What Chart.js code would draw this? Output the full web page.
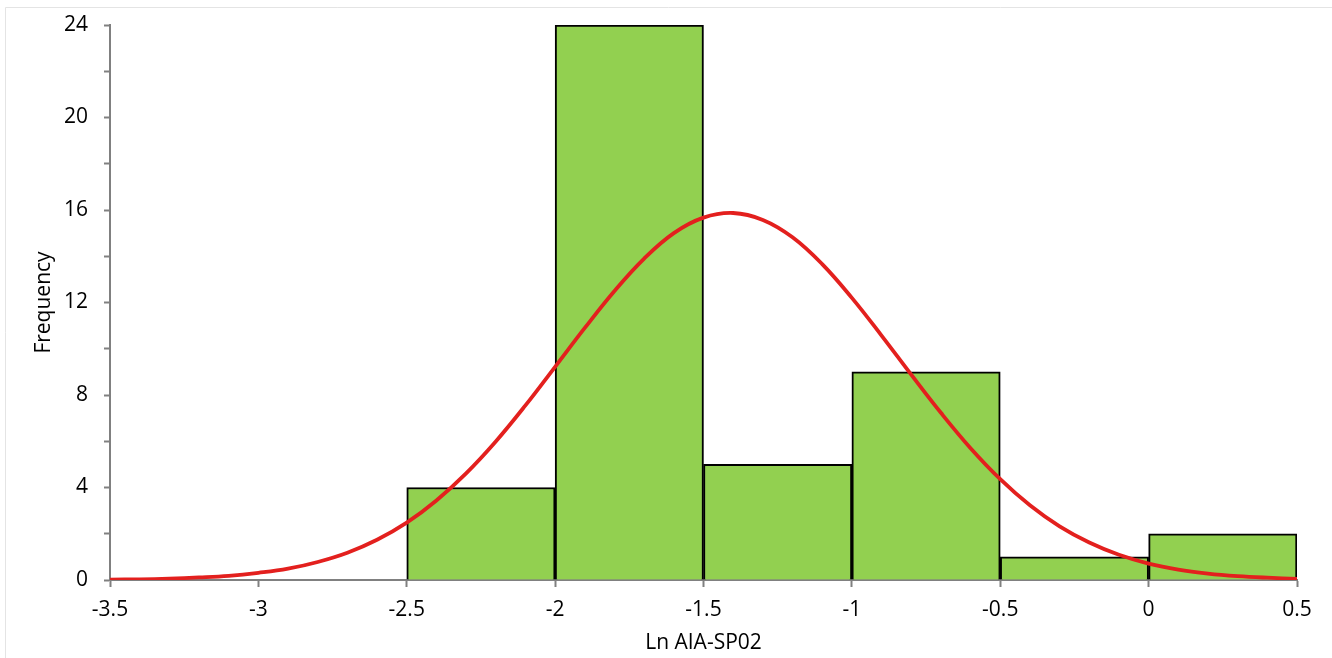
<!DOCTYPE html>
<html lang="en">
<head>
<meta charset="UTF-8">
<title>Histogram - Ln AIA-SP02</title>
<script src="https://cdn.jsdelivr.net/npm/chart.js"></script>
<style>
    html, body {
        margin: 0;
        padding: 0;
        background: #fff;
    }

    .chart-box {
        position: relative;
        width: 1332px;
        height: 658px;
    }
</style>
</head>
<body>

<div class="chart-box">
    <canvas id="grafHist" width="1332" height="658"></canvas>
</div>

<script>
    // histogram bins (centre of each 0.5 wide bin) and counts
    const binCenters = [-2.25, -1.75, -1.25, -0.75, -0.25, 0.25];
    const frequencies = [4, 24, 5, 9, 1, 2];

    // fitted curve, values
    const curveX = [-3.5, -3.4, -3.3, -3.2, -3.1, -3.0, -2.9, -2.8, -2.7, -2.6,
                    -2.5, -2.4, -2.3, -2.2, -2.1, -2.0, -1.9, -1.8, -1.7, -1.6,
                    -1.5, -1.4, -1.3, -1.2, -1.1, -1.0, -0.9, -0.8, -0.7, -0.6,
                    -0.5, -0.4, -0.3, -0.2, -0.1, 0.0, 0.1, 0.2, 0.3, 0.4, 0.5];
    const curveY = [0.02, 0.03, 0.06, 0.11, 0.18, 0.31, 0.49, 0.78, 1.18, 1.74,
                    2.48, 3.44, 4.61, 5.99, 7.55, 9.22, 10.9, 12.5, 13.9, 15.0,
                    15.67, 15.87, 15.57, 14.82, 13.66, 12.2, 10.57, 8.88, 7.23, 5.7,
                    4.36, 3.23, 2.32, 1.62, 1.09, 0.71, 0.45, 0.28, 0.17, 0.1, 0.05];

    const xTickStep = 0.5;
    const yTickStep = 2;
    const yLabelEvery = 4;

    const fuente = { family: '"Open Sans", sans-serif', size: 21 };
    const gris = '#808080';

    const marco = {
        id: 'marco',
        beforeDraw(chart) {
            const ctx = chart.ctx;
            ctx.save();
            ctx.fillStyle = '#fff';
            ctx.fillRect(0, 0, chart.width, chart.height);
            ctx.strokeStyle = '#e4e4e4';
            ctx.lineWidth = 1;
            ctx.beginPath();
            ctx.moveTo(5.5, chart.height);
            ctx.lineTo(5.5, 7.5);
            ctx.lineTo(chart.width, 7.5);
            ctx.stroke();
            ctx.restore();
        }
    };

    new Chart(grafHist, {
        type: 'bar',
        data: {
            datasets: [{
                type: 'line',
                data: curveX.map((x, i) => ({ x: x, y: curveY[i] })),
                borderColor: '#E3201E',
                borderWidth: 3.8,
                pointRadius: 0,
                tension: 0.4,
                fill: false,
                order: 0
            }, {
                type: 'bar',
                data: binCenters.map((x, i) => ({ x: x, y: frequencies[i] })),
                backgroundColor: '#92D050',
                borderColor: '#000',
                borderWidth: 2,
                barPercentage: 1,
                categoryPercentage: 1,
                grouped: false,
                order: 1
            }]
        },
        options: {
            responsive: false,
            animation: false,
            layout: { padding: { top: 25, right: 35, left: 0, bottom: 0 } },
            plugins: {
                legend: { display: false },
                tooltip: { enabled: false }
            },
            scales: {
                x: {
                    type: 'linear',
                    min: -3.5,
                    max: 0.5,
                    offset: false,
                    ticks: {
                        stepSize: xTickStep,
                        color: '#000',
                        font: fuente,
                        padding: 10,
                        autoSkip: false,
                        maxRotation: 0,
                        callback: v => String(Number(v.toFixed(1)))
                    },
                    grid: { offset: false, drawOnChartArea: false, drawTicks: true, tickLength: 7, tickColor: gris, tickWidth: 2, color: gris },
                    border: { color: gris, width: 2 },
                    title: { display: true, text: 'Ln AIA-SP02', color: '#000', font: fuente, padding: { top: 0, bottom: 2 } },
                    afterFit: s => { s.height = 78; s.paddingLeft = 0; s.paddingRight = 0; }
                },
                y: {
                    min: 0,
                    max: 24,
                    ticks: {
                        stepSize: yTickStep,
                        color: '#000',
                        font: fuente,
                        padding: 16,
                        callback: v => (v % yLabelEvery === 0 ? v : '')
                    },
                    grid: { drawOnChartArea: false, drawTicks: true, tickLength: 6, tickColor: gris, tickWidth: 2, color: gris },
                    border: { color: gris, width: 2 },
                    title: { display: true, text: 'Frequency', color: '#000', font: fuente, padding: { top: 31, bottom: 0 } },
                    afterFit: s => { s.width = 110; s.paddingTop = 0; s.paddingBottom = 0; }
                }
            }
        },
        plugins: [marco]
    });
</script>

</body>
</html>
